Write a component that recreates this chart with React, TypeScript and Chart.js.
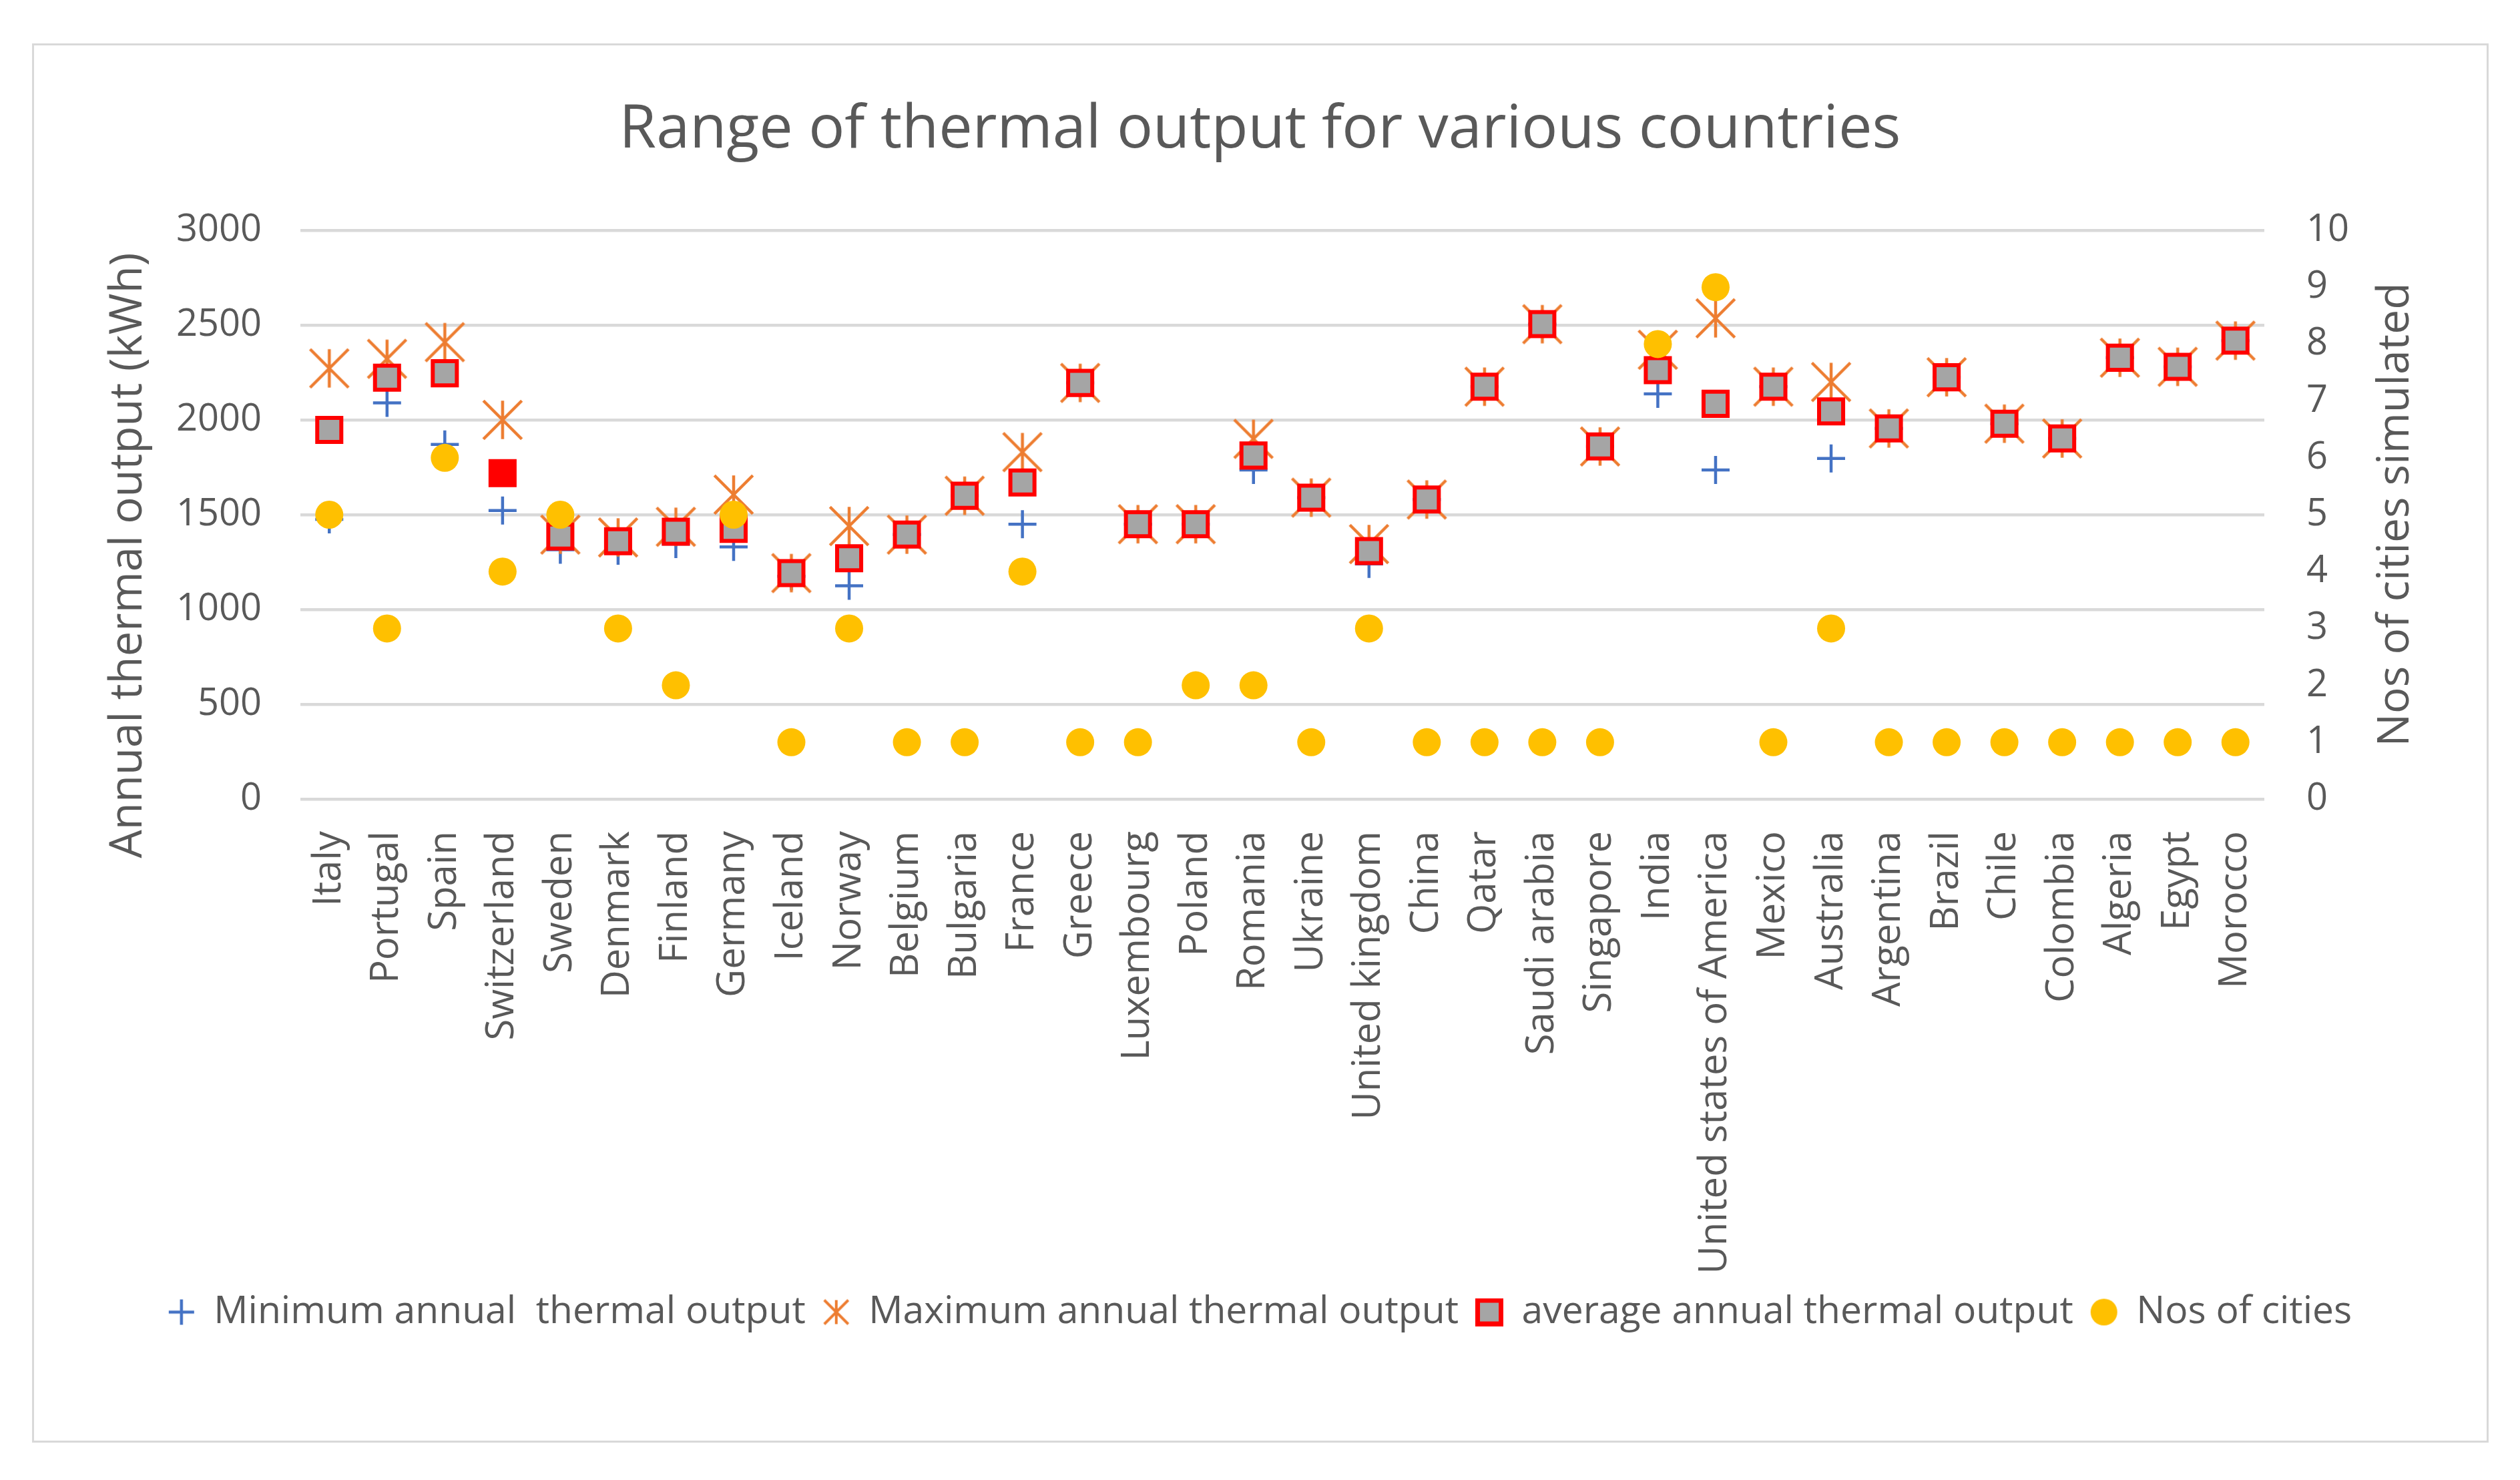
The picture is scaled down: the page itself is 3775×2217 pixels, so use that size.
import React, { useEffect, useRef } from 'react';
import { Chart, registerables } from 'chart.js';

Chart.register(...registerables);

const chartTitle = 'Range of thermal output for various countries';
const leftAxisTitle = 'Annual thermal output (kWh)';
const rightAxisTitle = 'Nos of cities simulated';

const countries = [
  'Italy', 'Portugal', 'Spain', 'Switzerland', 'Sweden', 'Denmark', 'Finland', 'Germany',
  'Iceland', 'Norway', 'Belgium', 'Bulgaria', 'France', 'Greece', 'Luxembourg', 'Poland',
  'Romania', 'Ukraine', 'United kingdom', 'China', 'Qatar', 'Saudi arabia', 'Singapore', 'India',
  'United states of America', 'Mexico', 'Australia', 'Argentina', 'Brazil', 'Chile', 'Colombia',
  'Algeria', 'Egypt', 'Morocco',
];

const minOutput = [
  1475, 2090, 1871, 1522, 1315, 1310, 1345, 1330,
  1175, 1125, 1395, 1600, 1450, 2195, 1450, 1450,
  1736, 1590, 1240, 1580, 2175, 2505, 1860, 2137,
  1736, 2175, 1797, 1955, 2225, 1980, 1902,
  2328, 2280, 2418,
];

const maxOutput = [
  2272, 2322, 2410, 2000, 1395, 1380, 1436, 1606,
  1192, 1440, 1395, 1600, 1830, 2195, 1450, 1450,
  1900, 1590, 1345, 1580, 2175, 2505, 1860, 2370,
  2536, 2175, 2200, 1955, 2225, 1980, 1902,
  2328, 2280, 2418,
];

const avgOutput = [
  1947, 2223, 2246, 1719, 1385, 1360, 1410, 1425,
  1192, 1270, 1395, 1600, 1670, 2195, 1450, 1450,
  1812, 1590, 1308, 1580, 2175, 2505, 1860, 2262,
  2085, 2175, 2045, 1955, 2225, 1980, 1902,
  2328, 2280, 2418,
];

const nosOfCities = [
  5, 3, 6, 4, 5, 3, 2, 5,
  1, 3, 1, 1, 4, 1, 1, 2,
  2, 1, 3, 1, 1, 1, 1, 8,
  9, 1, 3, 1, 1, 1, 1,
  1, 1, 1,
];

const seriesNames = [
  'Minimum annual  thermal output',
  'Maximum annual thermal output',
  'average annual thermal output',
  'Nos of cities',
];

const leftAxisMax = 3000;
const leftAxisStep = 500;
const rightAxisMax = 10;
const rightAxisStep = 1;

const BLUE = '#4472C4';
const ORANGE = '#ED7D31';
const RED = '#FF0000';
const GRAY = '#A5A5A5';
const YELLOW = '#FFC000';
const TEXT = '#595959';
const GRID = '#D9D9D9';
const FONT = "'Open Sans', 'Liberation Sans', sans-serif";

function makeCanvas(size: number, draw: (ctx: CanvasRenderingContext2D, s: number) => void) {
  const c = document.createElement('canvas');
  c.width = size;
  c.height = size;
  const ctx = c.getContext('2d')!;
  draw(ctx, size);
  return c;
}

function starIcon(size: number, lw: number) {
  return makeCanvas(size, (ctx, s) => {
    const p = lw / 2 + 1;
    ctx.strokeStyle = ORANGE;
    ctx.lineWidth = lw;
    ctx.beginPath();
    ctx.moveTo(p, p);
    ctx.lineTo(s - p, s - p);
    ctx.moveTo(s - p, p);
    ctx.lineTo(p, s - p);
    ctx.moveTo(s / 2, p);
    ctx.lineTo(s / 2, s - p);
    ctx.stroke();
  });
}

function plusIcon(size: number, lw: number) {
  return makeCanvas(size, (ctx, s) => {
    ctx.strokeStyle = BLUE;
    ctx.lineWidth = lw;
    ctx.beginPath();
    ctx.moveTo(s / 2, 1);
    ctx.lineTo(s / 2, s - 1);
    ctx.moveTo(1, s / 2);
    ctx.lineTo(s - 1, s / 2);
    ctx.stroke();
  });
}

function squareIcon(size: number, lw: number) {
  return makeCanvas(size, (ctx, s) => {
    ctx.fillStyle = GRAY;
    ctx.strokeStyle = RED;
    ctx.lineWidth = lw;
    ctx.fillRect(lw / 2, lw / 2, s - lw, s - lw);
    ctx.strokeRect(lw / 2, lw / 2, s - lw, s - lw);
  });
}

function circleIcon(size: number) {
  return makeCanvas(size, (ctx, s) => {
    ctx.fillStyle = YELLOW;
    ctx.beginPath();
    ctx.arc(s / 2, s / 2, s / 2 - 1, 0, Math.PI * 2);
    ctx.fill();
  });
}

const decorPlugin = {
  id: 'decor',
  beforeDraw(chart: any) {
    const { ctx, width, height } = chart;
    ctx.save();
    ctx.fillStyle = '#FFFFFF';
    ctx.fillRect(0, 0, width, height);
    ctx.strokeStyle = GRID;
    ctx.lineWidth = 3;
    ctx.strokeRect(49.5, 66.5, 3677, 2093);
    ctx.restore();
  },
  afterDraw(chart: any) {
    const { ctx, chartArea } = chart;
    const midY = (chartArea.top + chartArea.bottom) / 2;
    ctx.save();
    ctx.fillStyle = TEXT;
    ctx.textAlign = 'center';
    ctx.textBaseline = 'middle';
    ctx.save();
    ctx.font = `67px ${FONT}`;
    ctx.translate(chartArea.left - 257, midY + 61);
    ctx.rotate(-Math.PI / 2);
    ctx.fillText(leftAxisTitle, 0, 0);
    ctx.restore();
    ctx.save();
    ctx.font = `66px ${FONT}`;
    ctx.translate(chartArea.right + 197, midY);
    ctx.rotate(-Math.PI / 2);
    ctx.fillText(rightAxisTitle, 0, 0);
    ctx.restore();
    ctx.restore();
  },
};

export default function App() {
  const canvasRef = useRef<HTMLCanvasElement | null>(null);

  useEffect(() => {
    if (!canvasRef.current) return;
    const starPoint = starIcon(64, 4.5);
    const legendIcons = [
      circleIcon(42),
      squareIcon(42, 7),
      starIcon(42, 4),
      plusIcon(40, 4.5),
    ];
    const swissIndex = countries.indexOf('Switzerland');

    const chart = new Chart(canvasRef.current, {
      type: 'line',
      data: {
        labels: countries,
        datasets: [
          {
            label: seriesNames[3],
            data: nosOfCities,
            yAxisID: 'y1',
            showLine: false,
            pointStyle: 'circle',
            pointRadius: 21,
            pointBackgroundColor: YELLOW,
            pointBorderColor: YELLOW,
            pointBorderWidth: 0,
            backgroundColor: YELLOW,
            borderColor: YELLOW,
          },
          {
            label: seriesNames[2],
            data: avgOutput,
            yAxisID: 'y',
            showLine: false,
            pointStyle: 'rect',
            pointRadius: 25.5,
            pointBackgroundColor: (c: any) => (c.dataIndex === swissIndex ? RED : GRAY),
            pointBorderColor: RED,
            pointBorderWidth: 6,
            backgroundColor: GRAY,
            borderColor: RED,
          },
          {
            label: seriesNames[1],
            data: maxOutput,
            yAxisID: 'y',
            showLine: false,
            pointStyle: starPoint as any,
            pointRadius: 30,
            pointBorderColor: ORANGE,
            pointBackgroundColor: ORANGE,
            backgroundColor: ORANGE,
            borderColor: ORANGE,
          },
          {
            label: seriesNames[0],
            data: minOutput,
            yAxisID: 'y',
            showLine: false,
            pointStyle: 'cross',
            pointRadius: 21,
            pointBorderColor: BLUE,
            pointBorderWidth: 4.5,
            backgroundColor: BLUE,
            borderColor: BLUE,
          },
        ],
      },
      plugins: [decorPlugin],
      options: {
        responsive: false,
        devicePixelRatio: 1,
        animation: false,
        events: [],
        layout: { padding: { left: 48, right: 48, top: 141, bottom: 213 } },
        plugins: {
          tooltip: { enabled: false },
          title: {
            display: true,
            text: chartTitle,
            color: TEXT,
            font: { family: FONT, size: 90, weight: 'normal' },
            padding: { top: 0, bottom: 96 },
          },
          legend: {
            display: true,
            position: 'bottom',
            reverse: true,
            labels: {
              usePointStyle: true,
              boxWidth: 40,
              boxHeight: 40,
              padding: 26,
              color: TEXT,
              font: { family: FONT, size: 57 },
              generateLabels(ch: any) {
                const items = (Chart.defaults.plugins.legend.labels as any).generateLabels(ch);
                return items.map((it: any) => ({ ...it, pointStyle: legendIcons[it.datasetIndex] }));
              },
            },
          },
        },
        scales: {
          x: {
            type: 'category',
            offset: true,
            grid: { display: false, drawTicks: false },
            border: { display: false },
            ticks: {
              autoSkip: false,
              minRotation: 90,
              maxRotation: 90,
              padding: 48,
              color: TEXT,
              font: { family: FONT, size: 58 },
            },
            afterFit(s: any) {
              s.height = 714;
            },
          },
          y: {
            position: 'left',
            min: 0,
            max: leftAxisMax,
            grid: { color: GRID, lineWidth: 4.5, drawTicks: false },
            border: { display: false },
            ticks: {
              stepSize: leftAxisStep,
              padding: 58,
              color: TEXT,
              font: { family: FONT, size: 56 },
              callback: (v: any) => String(v),
            },
            afterFit(s: any) {
              s.width = 402;
            },
          },
          y1: {
            position: 'right',
            min: 0,
            max: rightAxisMax,
            grid: { display: false, drawTicks: false },
            border: { display: false },
            ticks: {
              stepSize: rightAxisStep,
              padding: 63,
              color: TEXT,
              font: { family: FONT, size: 56 },
              callback: (v: any) => String(v),
            },
            afterFit(s: any) {
              s.width = 335;
            },
          },
        },
      },
    } as any);

    return () => chart.destroy();
  }, []);

  return (
    <div style={{ position: 'fixed', left: 0, top: 0, width: 3775, height: 2217, background: '#fff' }}>
      <canvas ref={canvasRef} width={3775} height={2217} style={{ display: 'block' }} />
    </div>
  );
}
